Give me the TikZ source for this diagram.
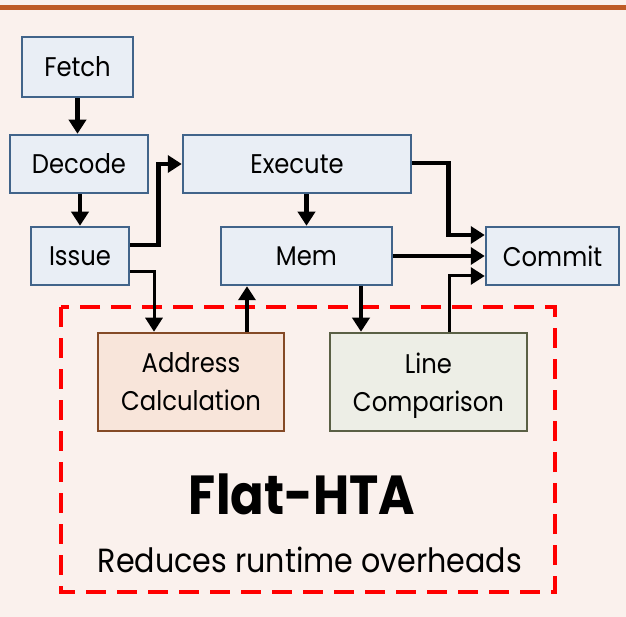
\documentclass[tikz,border=0pt]{standalone}
\usepackage{fontspec}
\setmainfont{Poppins}[FakeStretch=0.9]
\usetikzlibrary{arrows.meta}
\definecolor{bgpink}{HTML}{FAF1ED}
\definecolor{barbrown}{HTML}{BE5B26}
\definecolor{stagefill}{HTML}{E9EEF5}
\definecolor{stageline}{HTML}{41648A}
\definecolor{addrfill}{HTML}{F8E5DA}
\definecolor{addrline}{HTML}{844A26}
\definecolor{linefill}{HTML}{EDEEE6}
\definecolor{lineline}{HTML}{5A6045}
\definecolor{dashred}{HTML}{FF0000}
\tikzset{
  stage/.style={draw=stageline, fill=stagefill, line width=2.5pt, inner sep=0pt,
    font=\fontsize{27}{30}\selectfont},
  extbox/.style={line width=2.5pt, inner sep=0pt, align=center,
    font=\fontsize{27}{38}\selectfont},
  arr/.style={line width=4.5pt, -{Triangle[length=14pt,width=17pt]}},
  thinarr/.style={line width=3pt, -{Triangle[length=14pt,width=17pt]}},
  dashbox/.style={draw=dashred, line width=4.5pt, dash pattern=on 20pt off 11pt}
}
\begin{document}
\begin{tikzpicture}[x=1pt,y=-1pt]
  % page and top rule
  \fill[bgpink] (0,0) rectangle (626,617);
  \useasboundingbox (0,0) rectangle (626,617);
  \fill[barbrown] (0,5) rectangle (626,10);

  % pipeline stages
  \node[stage, minimum width=111pt, minimum height=60pt] (fetch)   at (77.5,67)  {Fetch};
  \node[stage, minimum width=138pt, minimum height=58pt] (decode)  at (79,164)   {Decode};
  \node[stage, minimum width=98pt,  minimum height=58pt] (issue)   at (80,256)   {Issue};
  \node[stage, minimum width=228pt, minimum height=58pt] (execute) at (297,164)  {Execute};
  \node[stage, minimum width=171pt, minimum height=58pt] (mem)     at (306.5,256){Mem};
  \node[stage, minimum width=133pt, minimum height=58pt] (commit)  at (552.5,256){Commit};

  % region added by the scheme
  \draw[dashbox] (61,307) rectangle (555,592);

  \node[extbox, draw=addrline, fill=addrfill, minimum width=186pt, minimum height=98pt]
    (addr) at (191,382) {Address\\Calculation};
  \node[extbox, draw=lineline, fill=linefill, minimum width=197pt, minimum height=98pt]
    (linecmp) at (428.5,382) {Line\\\raisebox{0pt}[\height][0pt]{Comparison}};

  \node[font=\fontsize{55}{60}\selectfont\bfseries] (title) at (302,494) {Flat-HTA};
  \node[font=\fontsize{33.5}{36}\selectfont] (sub) at (310,560) {Reduces runtime overheads};

  % connectors
  \draw[arr] (fetch.south) -- (fetch.south |- decode.north);
  \draw[arr] (issue.north |- decode.south) -- (issue.north);
  \draw[arr] ([yshift=11pt]issue.east) -- ++(28,0) |- (execute.west);
  \draw[thinarr] ([yshift=-16pt]issue.east) -| ([xshift=-37pt]addr.north);
  \draw[arr] (mem.north |- execute.south) -- (mem.north);
  \draw[arr] ([yshift=1pt]execute.east) -- ++(36,0) |- ([yshift=21pt]commit.west);
  \draw[arr] (mem.east) -- (mem.east -| commit.west);
  \draw[arr] ([xshift=54.5pt]mem.south) -- ([xshift=54.5pt]mem.south |- linecmp.north);
  \draw[arr] ([xshift=56pt]addr.north) -- ([xshift=56pt]addr.north |- mem.south);
  \draw[thinarr] ([xshift=20.5pt]linecmp.north) |- ([yshift=-20pt]commit.west);
\end{tikzpicture}
\end{document}
